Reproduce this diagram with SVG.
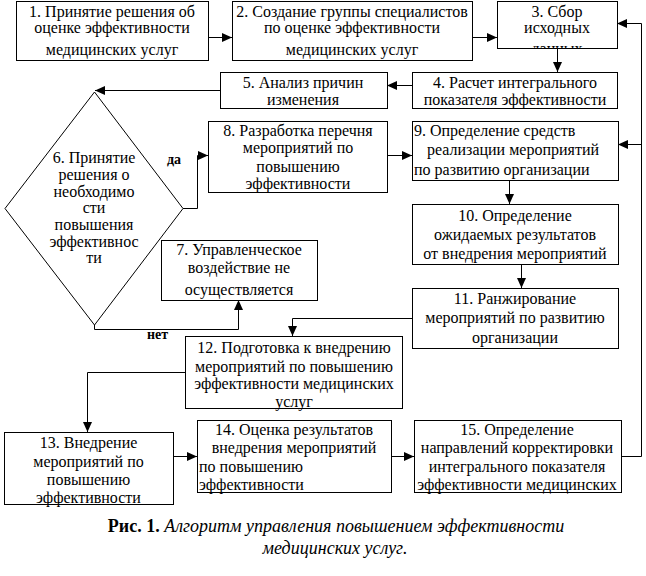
<svg xmlns="http://www.w3.org/2000/svg" width="646" height="576" viewBox="0 0 646 576" font-family="Liberation Serif, Times New Roman, DejaVu Serif, serif">
<style>
.box{fill:#fff;stroke:#000;stroke-width:1}
.t{font-size:16px}
.c{text-anchor:middle}
.conn{fill:none;stroke:#000;stroke-width:1}
.lbl{font-weight:bold;font-size:14px}
.cap{font-size:18px;text-anchor:middle}
</style>
<defs>
<marker id="ah" markerUnits="userSpaceOnUse" markerWidth="11" markerHeight="10" refX="10" refY="5" orient="auto">
<path d="M0,0.5 L10,5 L0,9.5 z" fill="#000"/>
</marker>
<clipPath id="clip3"><rect x="497" y="0" width="121" height="48.5"/></clipPath>
</defs>
<rect width="646" height="576" fill="#fff"/>

<g id="connectors">
<path class="conn" d="M208,37.5 H232" marker-end="url(#ah)"/>
<path class="conn" d="M472,37.5 H497" marker-end="url(#ah)"/>
<path class="conn" d="M557.5,48 V72" marker-end="url(#ah)"/>
<path class="conn" d="M412,85.5 H387" marker-end="url(#ah)"/>
<path class="conn" d="M220,90.5 H95" marker-end="url(#ah)"/>
<path class="conn" d="M183,208.5 H197.5 V155.5 H208" marker-end="url(#ah)"/>
<path class="conn" d="M94.5,325 V329.5 H238.5 V300" marker-end="url(#ah)"/>
<path class="conn" d="M387,155.5 H412" marker-end="url(#ah)"/>
<path class="conn" d="M509.5,180 V204" marker-end="url(#ah)"/>
<path class="conn" d="M521.5,264 V288" marker-end="url(#ah)"/>
<path class="conn" d="M412,318.5 H292.5 V336" marker-end="url(#ah)"/>
<path class="conn" d="M185,372.5 H87.5 V432" marker-end="url(#ah)"/>
<path class="conn" d="M173,456.5 H197" marker-end="url(#ah)"/>
<path class="conn" d="M391,456.5 H414" marker-end="url(#ah)"/>
<path class="conn" d="M621,456.5 H641.5 V23.5 H617" marker-end="url(#ah)"/>
<path class="conn" d="M641.5,144.5 H618" marker-end="url(#ah)"/>
<text class="lbl" x="167" y="164">да</text>
<text class="lbl" x="147" y="339">нет</text>
</g>

<g id="n1">
<rect class="box" x="16.5" y="1.5" width="192" height="59"/>
<text class="t c" x="112" y="17">1. Принятие решения об</text>
<text class="t c" x="112" y="33">оценке эффективности</text>
<text class="t c" x="112" y="55">медицинских услуг</text>
</g>
<g id="n2">
<rect class="box" x="232.5" y="1.5" width="240" height="59"/>
<text class="t c" x="352" y="17">2. Создание группы специалистов</text>
<text class="t c" x="352" y="33">по оценке эффективности</text>
<text class="t c" x="352" y="55">медицинских услуг</text>
</g>
<g id="n3">
<rect class="box" x="497.5" y="1.5" width="120" height="47"/>
<text class="t c" x="557" y="17">3. Сбор</text>
<text class="t c" x="557" y="33">исходных</text>
<text class="t c" x="557" y="54" clip-path="url(#clip3)">данных</text>
</g>
<g id="n4">
<rect class="box" x="412.5" y="72.5" width="205" height="36"/>
<text class="t c" x="515" y="88">4. Расчет интегрального</text>
<text class="t c" x="515" y="105">показателя эффективности</text>
</g>
<g id="n5">
<rect class="box" x="220.5" y="72.5" width="167" height="36"/>
<text class="t c" x="303" y="88">5. Анализ причин</text>
<text class="t c" x="303" y="105">изменения</text>
</g>
<g id="n6">
<polygon class="box" points="94.5,92 183,208.5 94.5,325 5,208.5"/>
<text class="t c" x="94" y="163">6. Принятие</text>
<text class="t c" x="94" y="180">решения о</text>
<text class="t c" x="94" y="197">необходимо</text>
<text class="t c" x="94" y="213">сти</text>
<text class="t c" x="94" y="230">повышения</text>
<text class="t c" x="94" y="247">эффективнос</text>
<text class="t c" x="94" y="263">ти</text>
</g>
<g id="n7">
<rect class="box" x="161.5" y="240.5" width="156" height="60"/>
<text class="t c" x="239" y="255">7. Управленческое</text>
<text class="t c" x="239" y="273">воздействие не</text>
<text class="t c" x="239" y="295">осуществляется</text>
</g>
<g id="n8">
<rect class="box" x="208.5" y="121.5" width="179" height="71"/>
<text class="t c" x="298" y="136">8. Разработка перечня</text>
<text class="t c" x="298" y="153">мероприятий по</text>
<text class="t c" x="298" y="172">повышению</text>
<text class="t c" x="298" y="189">эффективности</text>
</g>
<g id="n9">
<rect class="box" x="412.5" y="121.5" width="206" height="59"/>
<text class="t" x="414" y="136">9. Определение средств</text>
<text class="t c" x="513" y="155">реализации мероприятий</text>
<text class="t" x="414" y="175">по развитию организации</text>
</g>
<g id="n10">
<rect class="box" x="412.5" y="204.5" width="206" height="60"/>
<text class="t c" x="515" y="221">10. Определение</text>
<text class="t c" x="515" y="240">ожидаемых результатов</text>
<text class="t c" x="515" y="259">от внедрения мероприятий</text>
</g>
<g id="n11">
<rect class="box" x="412.5" y="288.5" width="206" height="60"/>
<text class="t c" x="515" y="304">11. Ранжирование</text>
<text class="t c" x="515" y="323">мероприятий по развитию</text>
<text class="t c" x="515" y="343">организации</text>
</g>
<g id="n12">
<rect class="box" x="185.5" y="336.5" width="217" height="72"/>
<text class="t c" x="294" y="353">12. Подготовка к внедрению</text>
<text class="t c" x="294" y="372">мероприятий по повышению</text>
<text class="t c" x="294" y="389">эффективности медицинских</text>
<text class="t c" x="294" y="407">услуг</text>
</g>
<g id="n13">
<rect class="box" x="4.5" y="432.5" width="169" height="72"/>
<text class="t c" x="88.5" y="448">13. Внедрение</text>
<text class="t c" x="88.5" y="467">мероприятий по</text>
<text class="t c" x="88.5" y="485">повышению</text>
<text class="t c" x="88.5" y="503">эффективности</text>
</g>
<g id="n14">
<rect class="box" x="197.5" y="420.5" width="194" height="72"/>
<text class="t c" x="294" y="435">14. Оценка результатов</text>
<text class="t c" x="294" y="453">внедрения мероприятий</text>
<text class="t" x="199" y="472">по повышению</text>
<text class="t" x="199" y="490">эффективности</text>
</g>
<g id="n15">
<rect class="box" x="414.5" y="420.5" width="207" height="72"/>
<text class="t c" x="517" y="435">15. Определение</text>
<text class="t c" x="517" y="453">направлений корректировки</text>
<text class="t c" x="517" y="472">интегрального показателя</text>
<text class="t c" x="517" y="490">эффективности медицинских</text>
</g>

<g id="caption">
<text class="cap" x="336" y="532"><tspan font-weight="bold">Рис. 1.</tspan> <tspan font-style="italic">Алгоритм управления повышением эффективности</tspan></text>
<text class="cap" x="335" y="554" font-style="italic">медицинских услуг.</text>
</g>
</svg>
